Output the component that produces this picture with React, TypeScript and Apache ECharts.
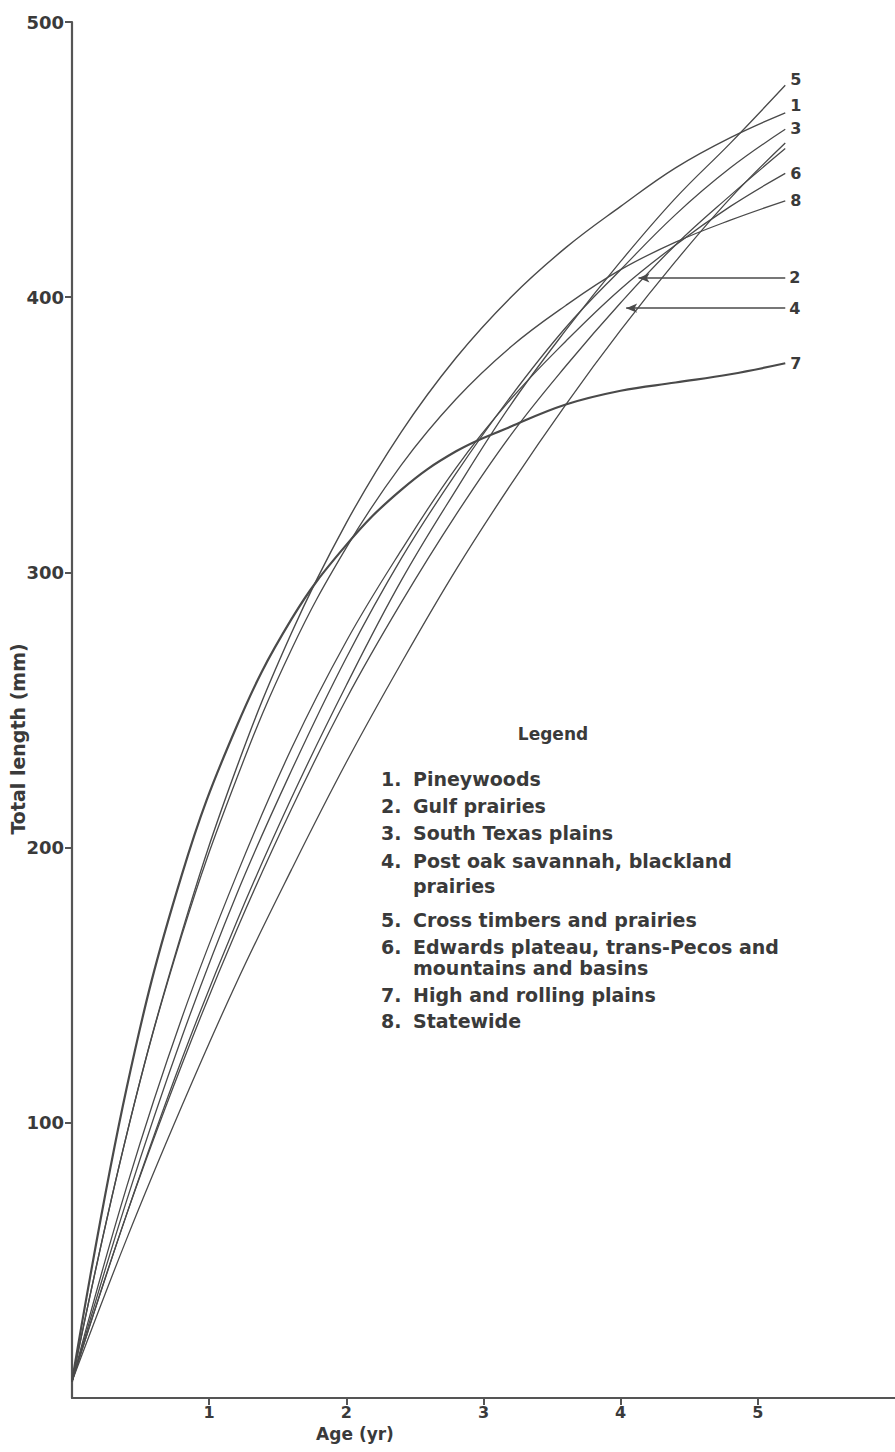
import React, { useEffect, useRef } from "react";
import * as echarts from "echarts";

const ages = [0, 0.4, 0.8, 1.2, 1.6, 2.0, 2.4, 2.8, 3.2, 3.6, 4.0, 4.4, 4.8, 5.2];
const pineywoods = [6, 96, 169, 229, 278, 318, 351, 378, 400, 418, 433, 447, 458, 467];
const gulfPrairies = [6, 67, 121, 170, 214, 254, 289, 321, 350, 375, 398, 419, 437, 454];
const southTexas = [6, 72, 131, 183, 228, 269, 305, 336, 364, 389, 410, 430, 447, 461];
const postOak = [6, 58, 106, 151, 192, 231, 267, 301, 332, 361, 388, 413, 436, 456];
const crossTimbers = [6, 67, 123, 173, 218, 259, 297, 330, 361, 388, 413, 436, 456, 477];
const edwards = [6, 77, 138, 190, 236, 275, 308, 338, 363, 384, 403, 419, 433, 445];
const highPlains = [6, 113, 190, 244, 283, 310, 330, 344, 353, 361, 366, 369, 372, 376];
const statewide = [6, 96, 168, 225, 272, 309, 339, 363, 382, 397, 410, 420, 428, 435];

const xTicks = [1, 2, 3, 4, 5];
const yTicks = [100, 200, 300, 400, 500];

// arrows pointing to curves 2 and 4
const arrow2 = { label: "2", from: 5.2, to: 4.13, y: 407 };
const arrow4 = { label: "4", from: 5.2, to: 4.04, y: 396 };

const legendTitle = "Legend";
const legendLines = [
  { n: "1.", t: "Pineywoods" },
  { n: "2.", t: "Gulf prairies" },
  { n: "3.", t: "South Texas plains" },
  { n: "4.", t: "Post oak savannah, blackland" },
  { n: "", t: "prairies" },
  { n: "5.", t: "Cross timbers and prairies" },
  { n: "6.", t: "Edwards plateau, trans-Pecos and" },
  { n: "", t: "mountains and basins" },
  { n: "7.", t: "High and rolling plains" },
  { n: "8.", t: "Statewide" },
];
const legendY = [779, 806, 833, 861, 886, 920, 947, 968, 995, 1021];

const INK = "#4a4a4a";
const TXT = "#3a3a3a";
const FONT = '"DejaVu Sans", sans-serif';

const pair = (ys: number[]) => ages.map((a, i) => [a, ys[i]]);

export default function App() {
  const ref = useRef<HTMLDivElement>(null);
  useEffect(() => {
    document.body.style.margin = "0";
    if (!ref.current) return;
    const chart = echarts.init(ref.current, null, { renderer: "svg" });

    const mkSeries = (
      name: string,
      ys: number[],
      label: string | null,
      width = 1.3,
      dy = 0,
      extra: any = {}
    ) => ({
      name,
      type: "line",
      data: pair(ys),
      smooth: 0.4,
      symbol: "none",
      showSymbol: false,
      silent: true,
      lineStyle: { color: INK, width },
      endLabel: label
        ? {
            show: true,
            formatter: label,
            color: TXT,
            fontFamily: FONT,
            fontWeight: "bold",
            fontSize: 16,
            distance: 5,
            offset: [0, dy],
          }
        : { show: false },
      z: 3,
      ...extra,
    });

    const arrowMark = (a: typeof arrow2) => ({
      silent: true,
      symbol: ["none", "arrow"],
      symbolSize: [7, 11],
      lineStyle: { color: INK, width: 1.6, type: "solid" },
      label: {
        show: true,
        position: "start",
        formatter: a.label,
        color: TXT,
        fontFamily: FONT,
        fontWeight: "bold",
        fontSize: 16,
        distance: 4,
      },
      data: [[{ coord: [a.from, a.y] }, { coord: [a.to, a.y] }]],
    });

    const graphics: any[] = [];
    graphics.push({
      type: "text",
      x: 553,
      y: 734,
      style: {
        text: legendTitle,
        font: `bold 17px ${FONT}`,
        fill: TXT,
        align: "center",
        verticalAlign: "middle",
      },
    });
    legendLines.forEach((l, i) => {
      if (l.n)
        graphics.push({
          type: "text",
          x: 381,
          y: legendY[i],
          style: { text: l.n, font: `bold 19px ${FONT}`, fill: TXT, align: "left", verticalAlign: "middle" },
        });
      graphics.push({
        type: "text",
        x: 413,
        y: legendY[i],
        style: { text: l.t, font: `bold 19px ${FONT}`, fill: TXT, align: "left", verticalAlign: "middle" },
      });
    });
    graphics.push({
      type: "text",
      x: 18,
      y: 739,
      rotation: Math.PI / 2,
      style: {
        text: "Total length (mm)",
        font: `bold 19px ${FONT}`,
        fill: TXT,
        align: "center",
        verticalAlign: "middle",
      },
    });
    graphics.push({
      type: "text",
      x: 355,
      y: 1434,
      style: {
        text: "Age (yr)",
        font: `bold 17px ${FONT}`,
        fill: TXT,
        align: "center",
        verticalAlign: "middle",
      },
    });

    chart.setOption({
      animation: false,
      backgroundColor: "#ffffff",
      grid: { left: 72, right: 0, top: 22, bottom: 54, containLabel: false },
      xAxis: {
        type: "value",
        min: 0,
        max: 6,
        interval: 1,
        axisLine: { show: true, lineStyle: { color: "#555", width: 2.2 } },
        axisTick: { show: true, inside: false, length: 7, customValues: xTicks, lineStyle: { color: "#555", width: 2 } },
        axisLabel: {
          customValues: xTicks,
          color: TXT,
          fontFamily: FONT,
          fontWeight: "bold",
          fontSize: 16,
          margin: 6,
        },
        splitLine: { show: false },
      },
      yAxis: {
        type: "value",
        min: 0,
        max: 500,
        interval: 100,
        axisLine: { show: true, lineStyle: { color: "#555", width: 2.2 } },
        axisTick: { show: true, inside: false, length: 7, customValues: yTicks, lineStyle: { color: "#555", width: 2 } },
        axisLabel: {
          customValues: yTicks,
          color: TXT,
          fontFamily: FONT,
          fontWeight: "bold",
          fontSize: 18,
          margin: 8,
        },
        splitLine: { show: false },
      },
      series: [
        mkSeries("Pineywoods", pineywoods, "1", 1.4, -7),
        mkSeries("Gulf prairies", gulfPrairies, null, 1.3, 0, { markLine: arrowMark(arrow2) }),
        mkSeries("South Texas plains", southTexas, "3", 1.3, -1),
        mkSeries("Post oak savannah, blackland prairies", postOak, null, 1.3, 0, { markLine: arrowMark(arrow4) }),
        mkSeries("Cross timbers and prairies", crossTimbers, "5", 1.3, -6),
        mkSeries("Edwards plateau, trans-Pecos and mountains and basins", edwards, "6", 1.3, 0),
        mkSeries("High and rolling plains", highPlains, "7", 2.2, 0),
        mkSeries("Statewide", statewide, "8", 1.3, 0),
      ],
      graphic: graphics,
    });
    return () => chart.dispose();
  }, []);
  return <div ref={ref} style={{ width: 895, height: 1452 }} />;
}
